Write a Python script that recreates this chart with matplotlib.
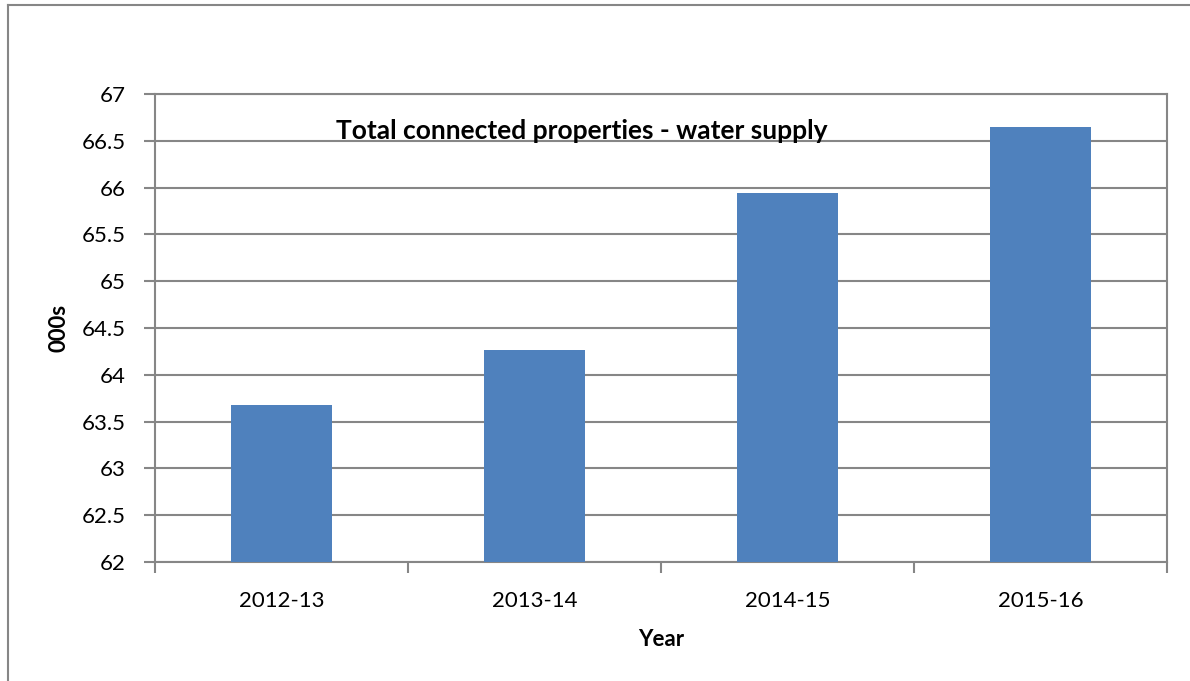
import matplotlib
matplotlib.use("Agg")
import matplotlib.pyplot as plt
from matplotlib.lines import Line2D

years = ["2012-13", "2013-14", "2014-15", "2015-16"]
properties = [63.68, 64.26, 65.94, 66.65]
y_ticks = [62, 62.5, 63, 63.5, 64, 64.5, 65, 65.5, 66, 66.5, 67]

plt.rcParams["font.family"] = ["Lato", "DejaVu Sans"]

W, H = 1190, 681
fig = plt.figure(figsize=(W / 100, H / 100), dpi=100)
ax = fig.add_axes([155 / W, 1 - 562 / H, (1167 - 155) / W, (562 - 94) / H])

grid_col = "#868686"
x = list(range(len(years)))
ax.bar(x, [v - 62 for v in properties], bottom=62, width=0.4,
       color="#4F81BD", zorder=3)

ax.set_xlim(-0.5, len(years) - 0.5)
ax.set_ylim(62, 67)
ax.set_yticks(y_ticks)
ax.set_yticklabels([f"{t:g}" for t in y_ticks])
ax.yaxis.grid(True, color=grid_col, linewidth=1.5, zorder=0)

ax.set_xticks(x)
ax.set_xticklabels(years)
ax.set_xticks([i - 0.5 for i in range(len(years) + 1)], minor=True)
ax.tick_params(axis="x", which="major", length=0, pad=21, labelsize=16)
ax.tick_params(axis="x", which="minor", length=8, width=1.5, color=grid_col)
ax.tick_params(axis="y", length=8, width=1.5, color=grid_col, pad=13,
               labelsize=16)

for side in ["left", "bottom", "right", "top"]:
    ax.spines[side].set_color(grid_col)
    ax.spines[side].set_linewidth(1.5)

ax.set_xlabel("Year", fontsize=16, fontweight="bold", labelpad=13)
ax.set_ylabel("000s", fontsize=16, fontweight="bold", va="center")
ax.yaxis.set_label_coords((59 - 155) / 1012, 0.5)

ax.text((582 - 155) / 1012, (562 - 131) / 468,
        "Total connected properties - water supply",
        transform=ax.transAxes, ha="center", va="center",
        fontsize=19, fontweight="bold", zorder=5)

# outer chart border (only top and left edges are in frame)
fig.add_artist(Line2D([8 / W, 1], [1 - 5 / H, 1 - 5 / H], color=grid_col,
                      linewidth=1.5, transform=fig.transFigure))
fig.add_artist(Line2D([8 / W, 8 / W], [0, 1 - 5 / H], color=grid_col,
                      linewidth=1.5, transform=fig.transFigure))

fig.savefig("out.png", dpi=100)
